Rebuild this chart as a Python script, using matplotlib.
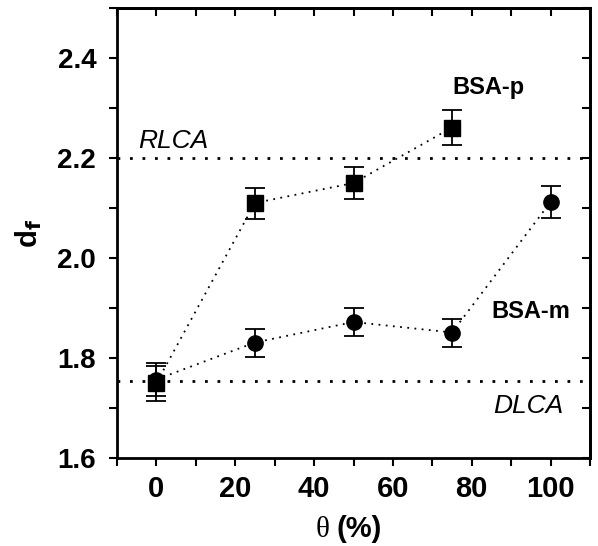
import matplotlib
matplotlib.use("Agg")
import matplotlib.pyplot as plt
from matplotlib.ticker import MultipleLocator

plt.rcParams['font.family'] = ['Liberation Sans', 'DejaVu Sans']

theta_p = [0, 25, 50, 75]
df_p = [1.75, 2.11, 2.15, 2.261]
err_p = [0.035, 0.031, 0.032, 0.035]

theta_m = [0, 25, 50, 75, 100]
df_m = [1.757, 1.831, 1.872, 1.851, 2.112]
err_m = [0.033, 0.028, 0.028, 0.028, 0.032]

rlca = 2.2
dlca = 1.755

W, H = 598, 546
fig = plt.figure(figsize=(W / 100, H / 100), dpi=100)
ax = fig.add_axes([117 / W, 1 - 458 / H, (590 - 117) / W, (458 - 8) / H])

ax.axhline(rlca, color='black', ls=(0, (1, 3.5)), lw=2.0, zorder=1)
ax.axhline(dlca, color='black', ls=(0, (1, 3.5)), lw=2.0, zorder=1)

ax.plot(theta_m, df_m, color='black', ls=(0, (1, 3)), lw=1.3, zorder=2)
ax.plot(theta_p, df_p, color='black', ls=(0, (1, 3)), lw=1.3, zorder=2)
ax.errorbar(theta_m, df_m, yerr=err_m, fmt='o', color='black', ms=11,
            capsize=7, elinewidth=1.3, capthick=1.3, zorder=3)
ax.errorbar(theta_p, df_p, yerr=err_p, fmt='s', color='black', ms=11,
            capsize=7, elinewidth=1.3, capthick=1.3, zorder=4)

ax.set_xlim(-10, 110)
ax.set_ylim(1.6, 2.5)
ax.xaxis.set_major_locator(MultipleLocator(20))
ax.xaxis.set_minor_locator(MultipleLocator(10))
ax.yaxis.set_major_locator(MultipleLocator(0.2))
ax.yaxis.set_minor_locator(MultipleLocator(0.1))

ax.tick_params(axis='both', which='both', direction='out', width=1.5,
               top=False, right=False, length=6)
ax.tick_params(axis='x', which='major', labelsize=21, pad=6)
ax.tick_params(axis='y', which='major', labelsize=20, pad=9)
ax.set_xticks([0, 20, 40, 60, 80, 100])
ax.set_xticklabels(['0', '20', '40', '60', '80', '100'], fontweight='bold')
ax.set_yticks([1.6, 1.8, 2.0, 2.2, 2.4])
ax.set_yticklabels(['1.6', '1.8', '2.0', '2.2', '2.4'], fontweight='bold')

sec_x = ax.secondary_xaxis('top')
sec_x.xaxis.set_major_locator(MultipleLocator(10))
sec_x.tick_params(direction='in', length=6, width=1.5, labeltop=False)
sec_y = ax.secondary_yaxis('right')
sec_y.yaxis.set_major_locator(MultipleLocator(0.1))
sec_y.tick_params(direction='in', length=6, width=1.5, labelright=False)
for s in list(ax.spines.values()) + list(sec_x.spines.values()) + list(sec_y.spines.values()):
    s.set_linewidth(2)

ax.text(-4.6, 2.22, 'RLCA', fontsize=19, style='italic')
ax.text(103.3, 1.69, 'DLCA', fontsize=19, style='italic', ha='right')
ax.text(93.5, 2.328, 'BSA-p', fontsize=17, weight='bold', ha='right')
ax.text(105, 1.879, 'BSA-m', fontsize=17, weight='bold', ha='right')

fig.text(316 / W, 1 - 537 / H, 'θ', fontsize=21, family='Liberation Serif',
         ha='left', va='baseline')
fig.text(337 / W, 1 - 537 / H, '(%)', fontsize=21, weight='bold',
         ha='left', va='baseline')
ax.set_ylabel(r'd$_\mathbf{f}$', fontsize=21, fontweight='bold', labelpad=10)

fig.savefig('out.png', dpi=100)
